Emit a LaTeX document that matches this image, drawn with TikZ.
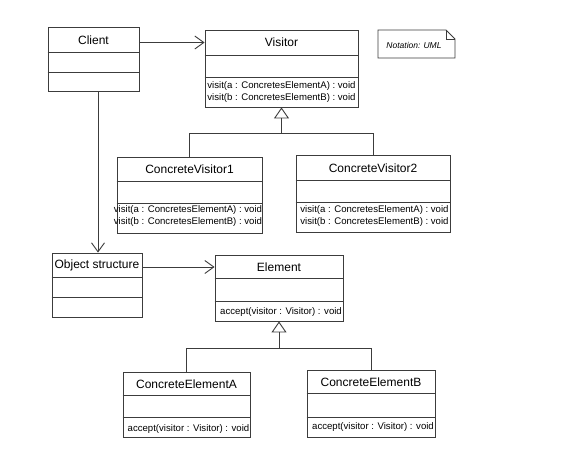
\documentclass[tikz,border=0pt]{standalone}
\usepackage{fontspec}
\setmainfont{Liberation Sans}
\usetikzlibrary{arrows.meta}
\definecolor{linegray}{RGB}{60,60,60}
\begin{document}
\begin{tikzpicture}[x=1pt,y=-1pt,
    >={Straight Barb[length=9pt,width=13pt]},
    classbox/.style={draw=linegray, line width=0.9pt, inner sep=0pt},
    divider/.style={linegray, line width=0.9pt},
    title/.style={font=\fontsize{12}{14}\selectfont, inner sep=0pt},
    ops/.style={font=\fontsize{9.6}{12}\selectfont, align=left, inner sep=0pt},
    assoc/.style={->, linegray, line width=0.9pt},
    gen/.style={linegray, line width=0.9pt}]
    \useasboundingbox[fill=white] (0,0) rectangle (575,472);
    % Client
    \node[classbox, minimum width=91pt, minimum height=64pt] (client) at (93.5,59) {};
    \node[title] (clientT) at (93.5,40) {Client};
    \draw[divider] (client.west |- 0,52) -- (client.east |- 0,52);
    \draw[divider] (client.west |- 0,72) -- (client.east |- 0,72);
    % Visitor
    \node[classbox, minimum width=153pt, minimum height=77pt] (visitor) at (281.5,68.5) {};
    \node[title] (visitorT) at (281.5,42.5) {Visitor};
    \draw[divider] (visitor.west |- 0,55) -- (visitor.east |- 0,55);
    \draw[divider] (visitor.west |- 0,77) -- (visitor.east |- 0,77);
    \node[ops] (visitorO) at (281.5,92) {visit(a : ConcretesElementA) : void\\visit(b : ConcretesElementB) : void};
    % ConcreteVisitor1
    \node[classbox, minimum width=145pt, minimum height=76pt] (cvone) at (189.5,195) {};
    \node[title] (cvoneT) at (189.5,169) {ConcreteVisitor1};
    \draw[divider] (cvone.west |- 0,181) -- (cvone.east |- 0,181);
    \draw[divider] (cvone.west |- 0,203) -- (cvone.east |- 0,203);
    \node[ops] (cvoneO) at (188,216) {visit(a : ConcretesElementA) : void\\visit(b : ConcretesElementB) : void};
    % ConcreteVisitor2
    \node[classbox, minimum width=154pt, minimum height=77pt] (cvtwo) at (373,193.5) {};
    \node[title] (cvtwoT) at (373,168) {ConcreteVisitor2};
    \draw[divider] (cvtwo.west |- 0,180) -- (cvtwo.east |- 0,180);
    \draw[divider] (cvtwo.west |- 0,202) -- (cvtwo.east |- 0,202);
    \node[ops] (cvtwoO) at (374.5,216) {visit(a : ConcretesElementA) : void\\visit(b : ConcretesElementB) : void};
    % Object structure
    \node[classbox, minimum width=90pt, minimum height=64pt] (objs) at (97,285) {};
    \node[title] (objsT) at (97,265) {Object structure};
    \draw[divider] (objs.west |- 0,277) -- (objs.east |- 0,277);
    \draw[divider] (objs.west |- 0,297) -- (objs.east |- 0,297);
    % Element
    \node[classbox, minimum width=128pt, minimum height=66pt] (element) at (279,288) {};
    \node[title] (elementT) at (279,267) {Element};
    \draw[divider] (element.west |- 0,278) -- (element.east |- 0,278);
    \draw[divider] (element.west |- 0,301) -- (element.east |- 0,301);
    \node[ops] (elementO) at (281,312) {accept(visitor : Visitor) : void};
    % ConcreteElementA
    \node[classbox, minimum width=127pt, minimum height=65pt] (cea) at (186.5,404.5) {};
    \node[title] (ceaT) at (186.5,384) {ConcreteElementA};
    \draw[divider] (cea.west |- 0,395) -- (cea.east |- 0,395);
    \draw[divider] (cea.west |- 0,417) -- (cea.east |- 0,417);
    \node[ops] (ceaO) at (188.5,429) {accept(visitor : Visitor) : void};
    % ConcreteElementB
    \node[classbox, minimum width=128pt, minimum height=67pt] (ceb) at (371,403.5) {};
    \node[title] (cebT) at (371,382) {ConcreteElementB};
    \draw[divider] (ceb.west |- 0,393) -- (ceb.east |- 0,393);
    \draw[divider] (ceb.west |- 0,417) -- (ceb.east |- 0,417);
    \node[ops] (cebO) at (373,427) {accept(visitor : Visitor) : void};
    % Nota
    \draw[divider] (378,30) -- (446,30) -- (455,39) -- (455,58) -- (378,58) -- cycle;
    \draw[divider, line width=0.6pt] (446,30) -- (446,39) -- (455,39);
    \node[font=\fontsize{8.5}{10}\selectfont\itshape, inner sep=0pt] (note) at (414,45) {Notation: UML};
    % Asociaciones
    \draw[assoc] (client.east |- visitorT) -- (visitor.west |- visitorT);
    \draw[assoc] (client.south -| 98,0) -- (objs.north -| 98,0);
    \draw[assoc] (objs.east |- elementT) -- (element.west |- elementT);
    % Generalizaciones
    \path (visitor.south) ++(0,26) coordinate (vbus);
    \draw[gen] (cvone.north) |- (vbus) -| (cvtwo.north);
    \draw[gen,-{Triangle[open,length=11pt,width=15pt]}] (vbus) -- (visitor.south);
    \path (element.south) ++(0,27) coordinate (ebus);
    \draw[gen] (cea.north) |- (ebus) -| (ceb.north);
    \draw[gen,-{Triangle[open,length=11pt,width=15pt]}] (ebus) -- (element.south);
  \end{tikzpicture}
\end{document}
